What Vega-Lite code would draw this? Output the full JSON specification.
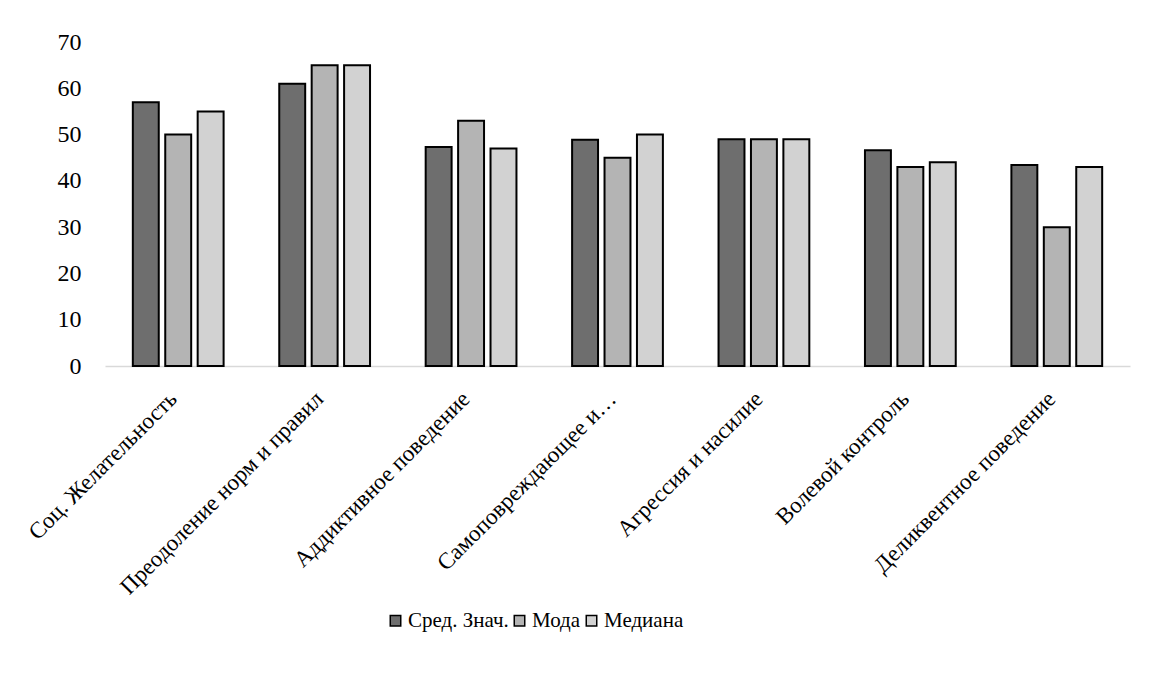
{
  "$schema": "https://vega.github.io/schema/vega-lite/v6.json",
  "autosize": "none",
  "width": 1025,
  "height": 324,
  "padding": {"left": 105, "top": 42, "right": 22, "bottom": 312},
  "background": "white",
  "config": {
    "view": {"stroke": null},
    "font": "Liberation Serif",
    "axis": {"labelFont": "Liberation Serif", "labelColor": "black", "grid": false, "ticks": false},
    "legend": {"labelFont": "Liberation Serif", "labelColor": "black"}
  },
  "data": {
    "values": [
      {"cat": "Соц. Желательность", "series": "Сред. Знач.", "value": 57},
      {"cat": "Соц. Желательность", "series": "Мода", "value": 50},
      {"cat": "Соц. Желательность", "series": "Медиана", "value": 55},
      {"cat": "Преодоление норм и правил", "series": "Сред. Знач.", "value": 61},
      {"cat": "Преодоление норм и правил", "series": "Мода", "value": 65},
      {"cat": "Преодоление норм и правил", "series": "Медиана", "value": 65},
      {"cat": "Аддиктивное поведение", "series": "Сред. Знач.", "value": 47.3},
      {"cat": "Аддиктивное поведение", "series": "Мода", "value": 53},
      {"cat": "Аддиктивное поведение", "series": "Медиана", "value": 47},
      {"cat": "Самоповреждающее и…", "series": "Сред. Знач.", "value": 48.9},
      {"cat": "Самоповреждающее и…", "series": "Мода", "value": 45},
      {"cat": "Самоповреждающее и…", "series": "Медиана", "value": 50},
      {"cat": "Агрессия и насилие", "series": "Сред. Знач.", "value": 49},
      {"cat": "Агрессия и насилие", "series": "Мода", "value": 49},
      {"cat": "Агрессия и насилие", "series": "Медиана", "value": 49},
      {"cat": "Волевой контроль", "series": "Сред. Знач.", "value": 46.6},
      {"cat": "Волевой контроль", "series": "Мода", "value": 43},
      {"cat": "Волевой контроль", "series": "Медиана", "value": 44},
      {"cat": "Деликвентное поведение", "series": "Сред. Знач.", "value": 43.4},
      {"cat": "Деликвентное поведение", "series": "Мода", "value": 30},
      {"cat": "Деликвентное поведение", "series": "Медиана", "value": 43}
    ]
  },
  "mark": {"type": "bar", "stroke": "black", "strokeWidth": 2},
  "encoding": {
    "x": {
      "field": "cat", "type": "nominal", "sort": null, "title": null,
      "scale": {"paddingInner": 0.38, "paddingOuter": 0.19},
      "axis": {"labelAngle": -45, "labelAlign": "right", "labelBaseline": "middle", "labelFontSize": 23, "labelPadding": 29, "labelOffset": -5, "labelLimit": 400, "domainColor": "#d9d9d9", "domainWidth": 1.5}
    },
    "xOffset": {
      "field": "series", "type": "nominal", "sort": ["Сред. Знач.", "Мода", "Медиана"],
      "scale": {"paddingInner": 0.2, "paddingOuter": 0}
    },
    "y": {
      "field": "value", "type": "quantitative", "title": null,
      "scale": {"domain": [0, 70]},
      "axis": {"values": [0, 10, 20, 30, 40, 50, 60, 70], "labelFontSize": 24, "labelPadding": 24, "domain": false}
    },
    "fill": {
      "field": "series", "type": "nominal", "sort": ["Сред. Знач.", "Мода", "Медиана"], "title": null,
      "scale": {"domain": ["Сред. Знач.", "Мода", "Медиана"], "range": ["#6e6e6e", "#b4b4b4", "#d2d2d2"]},
      "legend": {"orient": "none", "legendX": 280, "legendY": 568, "direction": "horizontal", "columns": 3, "symbolType": "square", "symbolSize": 110, "symbolStrokeColor": "black", "symbolStrokeWidth": 1.5, "labelFontSize": 21, "labelOffset": 2, "columnPadding": 0}
    }
  }
}
